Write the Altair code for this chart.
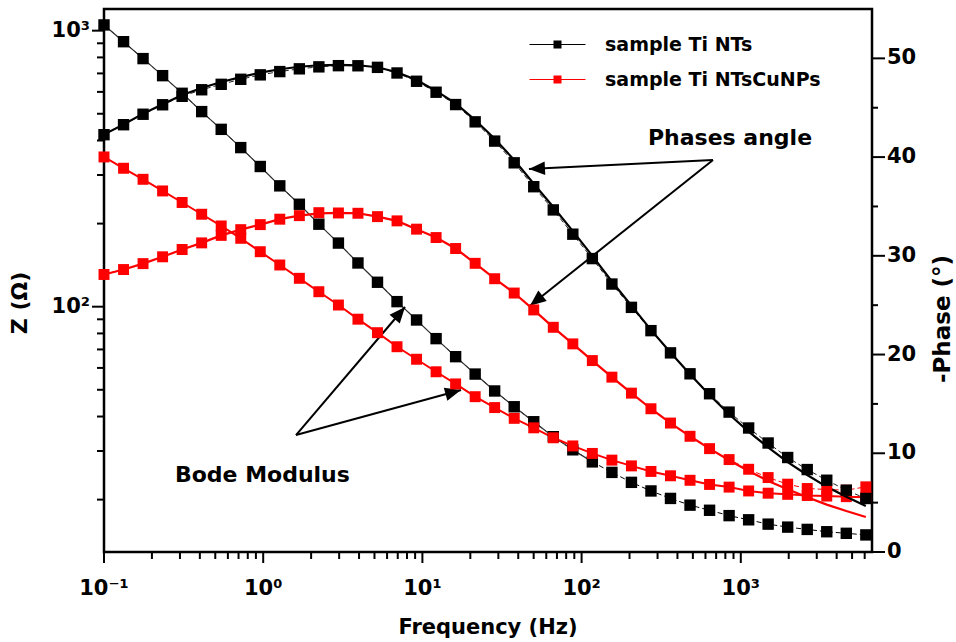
import altair as alt
import pandas as pd

# ---------------- data ----------------
freq = [0.1, 0.1327, 0.1759, 0.2334, 0.3096, 0.4107, 0.5448, 0.7227, 0.9585, 1.271,
        1.687, 2.237, 2.968, 3.937, 5.223, 6.928, 9.19, 12.19, 16.17, 21.45,
        28.44, 37.73, 50.05, 66.40, 88.08, 116.8, 155.0, 205.6, 272.7, 361.7,
        479.8, 636.5, 844.3, 1120, 1485, 1970, 2614, 3467, 4599, 6101]

z_ti = [1049, 912, 792, 687, 593, 509, 439, 377, 322, 274,
        235, 199, 170, 144, 122.6, 104.3, 89.5, 76.6, 65.9, 57.0,
        49.5, 43.4, 38.3, 33.8, 30.3, 27.4, 25.1, 23.1, 21.5, 20.2,
        19.1, 18.3, 17.5, 16.9, 16.3, 15.9, 15.6, 15.3, 15.1, 14.9]

z_cu = [348.7, 317.3, 289.4, 262.6, 238.5, 216.2, 196.1, 176.9, 158.2, 141.6,
        126.7, 113.3, 101.4, 90.1, 80.5, 71.6, 64.5, 58.1, 52.5, 47.2,
        43.1, 39.4, 36.4, 33.5, 31.3, 29.4, 27.8, 26.5, 25.3, 24.4,
        23.5, 22.7, 22.2, 21.5, 21.1, 20.9, 20.7, 20.6, 20.5, 20.4]

ph_ti = [42.27, 43.28, 44.34, 45.30, 46.16, 46.82, 47.37, 47.88, 48.33, 48.66,
         48.94, 49.14, 49.26, 49.25, 49.09, 48.52, 47.68, 46.57, 45.32, 43.57,
         41.62, 39.42, 37.0, 34.65, 32.19, 29.72, 27.14, 24.78, 22.42, 20.17,
         18.05, 16.03, 14.17, 12.56, 11.04, 9.57, 8.35, 7.27, 6.26, 5.42]

ph_ti_fit = [42.3, 43.3, 44.4, 45.35, 46.3, 47.0, 47.6, 48.1, 48.55, 48.9,
             49.15, 49.3, 49.35, 49.3, 49.1, 48.6, 47.8, 46.7, 45.45, 43.75,
             41.85, 39.7, 37.3, 34.95, 32.5, 30.0, 27.4, 24.95, 22.5, 20.2,
             18.0, 15.9, 13.95, 12.2, 10.6, 9.1, 7.8, 6.6, 5.6, 4.65]

ph_cu = [28.11, 28.61, 29.21, 29.90, 30.64, 31.31, 32.07, 32.65, 33.16, 33.71,
         34.07, 34.37, 34.34, 34.31, 33.97, 33.54, 32.70, 31.85, 30.74, 29.24,
         27.68, 26.23, 24.52, 22.76, 21.08, 19.39, 17.71, 16.09, 14.51, 13.06,
         11.72, 10.47, 9.36, 8.38, 7.54, 6.87, 6.43, 6.33, 6.26, 6.60]

ph_cu_fit = [28.11, 28.61, 29.21, 29.90, 30.64, 31.31, 32.07, 32.65, 33.16, 33.71,
             34.07, 34.3, 34.34, 34.31, 33.97, 33.54, 32.70, 31.85, 30.74, 29.24,
             27.68, 26.23, 24.52, 22.76, 21.08, 19.39, 17.71, 16.09, 14.51, 13.06,
             11.72, 10.47, 9.3, 8.2, 7.2, 6.35, 5.55, 4.8, 4.15, 3.55]

series_names = ["sample Ti NTs", "sample Ti NTsCuNPs"]
series_colors = ["#000000", "#ff0000"]

x_major = [0.1, 1, 10, 100, 1000]
x_major_labels = ["10⁻¹", "10⁰", "10¹", "10²", "10³"]
x_minor = [0.2, 0.3, 0.4, 0.5, 0.6, 0.7, 0.8, 0.9,
           2, 3, 4, 5, 6, 7, 8, 9,
           20, 30, 40, 50, 60, 70, 80, 90,
           200, 300, 400, 500, 600, 700, 800, 900,
           2000, 3000, 4000, 5000, 6000]

y_major = [100, 1000]
y_major_labels = ["10²", "10³"]
y_minor = [20, 30, 40, 50, 60, 70, 80, 90, 200, 300, 400, 500, 600, 700, 800, 900]

p_major = [0, 10, 20, 30, 40, 50]
p_major_labels = ["0", "10", "20", "30", "40", "50"]
p_minor = [5, 15, 25, 35, 45]

axis_titles = {"x": "Frequency (Hz)", "left": "Z (Ω)", "right": "-Phase (°)"}

# annotations (arrow start/end in data coordinates, arrowhead angles)
bode_arrows = pd.DataFrame({"f0": [1.607, 1.607], "z0": [34.28, 34.28],
                            "f1": [7.78, 17.48], "z1": [99.75, 49.9],
                            "ang": [310.4, 344.7]})
phase_arrows = pd.DataFrame({"f0": [669, 669], "p0": [39.7, 39.7],
                             "f1": [46.7, 47.4], "p1": [38.79, 24.95],
                             "ang": [177.2, 141.4]})
bode_label = pd.DataFrame({"f": [0.279], "z": [23.2], "t": ["Bode Modulus"]})
phase_label = pd.DataFrame({"f": [261], "p": [41.2], "t": ["Phases angle"]})

df = pd.DataFrame({"freq": freq, "z_ti": z_ti, "z_cu": z_cu,
                   "ph_ti": ph_ti, "ph_ti_fit": ph_ti_fit,
                   "ph_cu": ph_cu, "ph_cu_fit": ph_cu_fit})

# ---------------- styling helpers ----------------
FONT = "DejaVu Sans"
W, H = 768, 543

xs = alt.Scale(type="log", domain=[0.1, 6670], nice=False)
ys_l = alt.Scale(type="log", domain=[12.92, 1198], nice=False)
ys_r = alt.Scale(domain=[0, 55], nice=False, zero=False)

legend_path = ("M-3.5,-0.07H-0.5V0.07H-3.5Z M0.5,-0.07H3.5V0.07H0.5Z "
               "M-0.5,-0.5H0.5V0.5H-0.5Z")
color_enc = alt.Color("sample:N",
                      scale=alt.Scale(domain=series_names, range=series_colors),
                      legend=alt.Legend(title=None, orient="none", legendX=444, legendY=26,
                                        symbolType=legend_path, symbolSize=256,
                                        symbolStrokeWidth=0, symbolOpacity=1,
                                        labelFont=FONT, labelFontWeight="bold",
                                        labelFontSize=19, labelColor="black", labelLimit=0,
                                        labelOffset=38, rowPadding=15, padding=0))

arrow_path = "M0,0L-1,-0.42L-1,0.42Z"

base = alt.Chart(df)


def X(field="freq"):
    return alt.X(f"{field}:Q", scale=xs, axis=None)


def YL(field):
    return alt.Y(f"{field}:Q", scale=ys_l, axis=None)


def YR(field):
    return alt.Y(f"{field}:Q", scale=ys_r, axis=None)


def txt(**kw):
    style = dict(font=FONT, fontWeight="bold", color="black")
    style.update(kw)
    return style


# ---------------- axes drawn from tick arrays through the chart's scales ----------------
xmaj_df = pd.DataFrame({"v": x_major, "lab": x_major_labels})
ymaj_df = pd.DataFrame({"v": y_major, "lab": y_major_labels})
pmaj_df = pd.DataFrame({"v": p_major, "lab": p_major_labels})

x_ticks_major = alt.Chart(xmaj_df).mark_rule(color="black", strokeWidth=2, clip=False).encode(
    x=X("v"), y=alt.value(H), y2=alt.value(H + 11))
x_ticks_minor = alt.Chart(pd.DataFrame({"v": x_minor})).mark_rule(
    color="black", strokeWidth=2, clip=False).encode(
    x=X("v"), y=alt.value(H), y2=alt.value(H + 7))
x_labels = alt.Chart(xmaj_df).mark_text(**txt(align="center", baseline="top", fontSize=21)).encode(
    x=X("v"), y=alt.value(H + 26), text="lab:N")
x_title = alt.Chart(pd.DataFrame({"t": [axis_titles["x"]]})).mark_text(
    **txt(align="center", baseline="alphabetic", fontSize=21)).encode(
    x=alt.value(W / 2), y=alt.value(H + 82), text="t:N")

y_ticks_major = alt.Chart(ymaj_df).mark_rule(color="black", strokeWidth=2, clip=False).encode(
    y=YL("v"), x=alt.value(0), x2=alt.value(-12))
y_ticks_minor = alt.Chart(pd.DataFrame({"v": y_minor})).mark_rule(
    color="black", strokeWidth=2, clip=False).encode(
    y=YL("v"), x=alt.value(0), x2=alt.value(-7))
y_labels = alt.Chart(ymaj_df).mark_text(**txt(align="right", baseline="middle", fontSize=21)).encode(
    y=YL("v"), x=alt.value(-14), text="lab:N")
y_title = alt.Chart(pd.DataFrame({"t": [axis_titles["left"]]})).mark_text(
    **txt(align="center", baseline="middle", fontSize=22, angle=270)).encode(
    x=alt.value(-84), y=alt.value(294), text="t:N")

p_ticks_major = alt.Chart(pmaj_df).mark_rule(color="black", strokeWidth=2, clip=False).encode(
    y=YR("v"), x=alt.value(W), x2=alt.value(W + 13))
p_ticks_minor = alt.Chart(pd.DataFrame({"v": p_minor})).mark_rule(
    color="black", strokeWidth=2, clip=False).encode(
    y=YR("v"), x=alt.value(W), x2=alt.value(W + 6))
p_labels = alt.Chart(pmaj_df).mark_text(**txt(align="left", baseline="middle", fontSize=21)).encode(
    y=YR("v"), x=alt.value(W + 15), text="lab:N")
p_title = alt.Chart(pd.DataFrame({"t": [axis_titles["right"]]})).mark_text(
    **txt(align="center", baseline="middle", fontSize=23, angle=270)).encode(
    x=alt.value(W + 71), y=alt.value(310), text="t:N")

# ---------------- left (modulus) group ----------------
zb_dash = base.mark_line(color="black", strokeWidth=1, strokeDash=[5, 3]).encode(
    x=X(), y=YL("z_ti"))
zb_fit = base.transform_filter("datum.freq < 130").mark_line(
    color="#333333", strokeWidth=1.2).encode(x=X(), y=YL("z_ti"))
zb_pts = base.transform_calculate(sample=f"'{series_names[0]}'").mark_square(
    size=130, opacity=1).encode(x=X(), y=YL("z_ti"), color=color_enc)
zr_line = base.mark_line(color="#ff0000", strokeWidth=2).encode(x=X(), y=YL("z_cu"))
zr_pts = base.transform_calculate(sample=f"'{series_names[1]}'").mark_square(
    size=120, opacity=1).encode(x=X(), y=YL("z_cu"), color=color_enc)

ba = alt.Chart(bode_arrows)
bode_rules = ba.mark_rule(color="black", strokeWidth=2).encode(
    x=X("f0"), x2="f1:Q", y=YL("z0"), y2="z1:Q")
bode_heads = ba.mark_point(shape=arrow_path, size=1024, filled=True, color="black",
                           opacity=1, strokeWidth=0).encode(
    x=X("f1"), y=YL("z1"), angle=alt.Angle("ang:Q", scale=None))
bode_text = alt.Chart(bode_label).mark_text(**txt(align="left", baseline="alphabetic",
                                                  fontSize=22)).encode(
    x=X("f"), y=YL("z"), text="t:N")

left = alt.layer(zb_dash, x_ticks_major, x_ticks_minor, x_labels, x_title,
                 y_ticks_major, y_ticks_minor, y_labels, y_title,
                 zb_fit, zr_line, bode_rules, bode_heads, bode_text, zb_pts, zr_pts)

# ---------------- right (phase) group ----------------
pb_dash = base.mark_line(color="#222222", strokeWidth=1, strokeDash=[5, 3]).encode(
    x=X(), y=YR("ph_ti"))
pb_fit = base.mark_line(color="black", strokeWidth=2.2).encode(x=X(), y=YR("ph_ti_fit"))
pb_pts = base.transform_calculate(sample=f"'{series_names[0]}'").mark_square(
    size=130, opacity=1).encode(x=X(), y=YR("ph_ti"), color=color_enc)
pr_dash = base.mark_line(color="#ff0000", strokeWidth=1, strokeDash=[5, 3]).encode(
    x=X(), y=YR("ph_cu"))
pr_fit = base.mark_line(color="#ff0000", strokeWidth=2.2).encode(x=X(), y=YR("ph_cu_fit"))
pr_pts = base.transform_calculate(sample=f"'{series_names[1]}'").mark_square(
    size=120, opacity=1).encode(x=X(), y=YR("ph_cu"), color=color_enc)

pa = alt.Chart(phase_arrows)
phase_rules = pa.mark_rule(color="black", strokeWidth=2).encode(
    x=X("f0"), x2="f1:Q", y=YR("p0"), y2="p1:Q")
phase_heads = pa.mark_point(shape=arrow_path, size=1024, filled=True, color="black",
                            opacity=1, strokeWidth=0).encode(
    x=X("f1"), y=YR("p1"), angle=alt.Angle("ang:Q", scale=None))
phase_text = alt.Chart(phase_label).mark_text(**txt(align="left", baseline="alphabetic",
                                                    fontSize=22)).encode(
    x=X("f"), y=YR("p"), text="t:N")

right = alt.layer(pb_dash, p_ticks_major, p_ticks_minor, p_labels, p_title,
                  pr_dash, pr_fit, pb_fit, phase_rules, phase_heads, phase_text,
                  pr_pts, pb_pts)

chart = alt.layer(left, right).resolve_scale(y="independent").properties(
    width=W, height=H,
    padding={"left": 104, "top": 9, "right": 84, "bottom": 90},
    autosize=alt.AutoSizeParams(type="none"),
    background="white",
).configure_view(stroke="black", strokeWidth=2.5)

chart.save("out.html", embed_options={"renderer": "svg", "actions": False})
